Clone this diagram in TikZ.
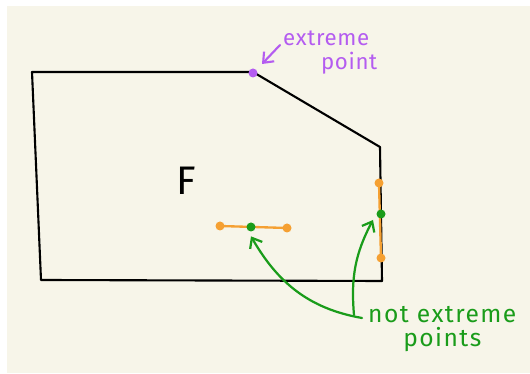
\documentclass[tikz,border=0pt]{standalone}
\usepackage{fontspec}
\setmainfont{Fira Sans}
\newfontfamily\handfont[LetterSpace=3]{Fira Sans}
\newfontfamily\handwide[LetterSpace=6]{Fira Sans}
\usetikzlibrary{positioning,arrows.meta}
\definecolor{paper}{HTML}{F7F5E9}
\definecolor{lilac}{HTML}{B45CF0}
\definecolor{leaf}{HTML}{1A9C1A}
\definecolor{amber}{HTML}{F5A032}
\tikzset{
  rim/.style={draw=black,line width=1.8pt,line join=round},
  seg/.style={draw=amber,line width=2pt,line cap=round},
  dotnode/.style={circle,inner sep=0pt,minimum size=0.27cm},
  lilacdot/.style={dotnode,fill=lilac},
  amberdot/.style={dotnode,fill=amber},
  leafdot/.style={dotnode,fill=leaf},
  note/.style={inner sep=0pt},
  lilacflow/.style={-{Straight Barb[length=2.6mm,width=4.2mm]},draw=lilac,line width=1.8pt,line cap=round},
  leafflow/.style={-{Straight Barb[length=2.6mm,width=4.2mm]},draw=leaf,line width=1.9pt,line cap=round}}
\begin{document}
\begin{tikzpicture}[x=0.03cm,y=0.03cm]
\useasboundingbox (0,0) rectangle (530,374);
\fill[white] (0,0) rectangle (530,374);
\fill[paper] (7,1) rectangle (530,368);
% the set F
\draw[rim] (32,302) -- (253,302) -- (380,227) -- (382,93) -- (41,94) -- cycle;
\node[font=\fontsize{34}{34}\selectfont] (setF) at (186,193) {F};
% extreme point
\node[lilacdot] (vtx) at (253,301) {};
\node[note,text=lilac,align=right,anchor=north west,font=\handfont\fontsize{19}{20}\selectfont] (ext) at (283,343) {extreme\\point\hspace*{-2.4mm}};
\draw[lilacflow] ([shift={(-3,-14)}]ext.north west) -- ([shift={(9,9)}]vtx.center);
% inner segment
\node[amberdot] (h1) at (220,148) {};
\node[amberdot] (h2) at (287,146) {};
\draw[seg] (h1.center) -- (h2.center);
\node[leafdot] (hm) at (251,147) {};
% segment on the boundary
\node[amberdot] (v1) at (379,191) {};
\node[amberdot] (v2) at (381,116) {};
\draw[seg] (v1.center) -- (v2.center);
\node[leafdot] (vm) at (381,160) {};
% not extreme points
\node[note,text=leaf,align=center,anchor=west,font=\handwide\fontsize{21}{21}\selectfont] (notext) at (368,45) {not extreme\\points};
\draw[leafflow] ([shift={(-6,11)}]notext.west) to[out=170,in=-60] ([yshift=-8]hm.center);
\draw[leafflow] ([shift={(-14,14)}]notext.west) to[out=95,in=-118] ([shift={(-8,-6)}]vm.center);
\end{tikzpicture}
\end{document}
